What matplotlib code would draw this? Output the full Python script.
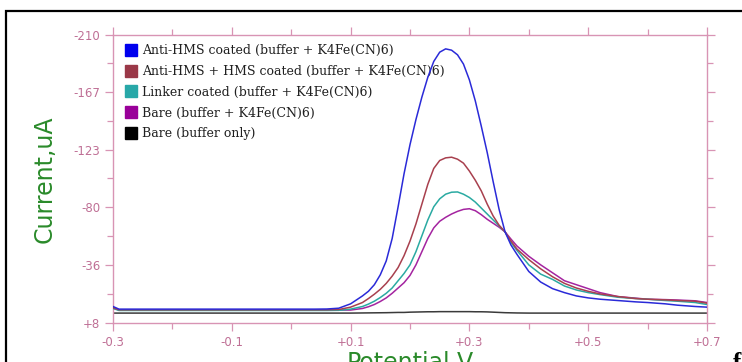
import matplotlib
matplotlib.use("Agg")
import matplotlib.pyplot as plt
from matplotlib.lines import Line2D
from matplotlib.patches import Rectangle

# ---------------- data ----------------
potential = [-0.30, -0.29, -0.20, -0.10, 0.00, 0.04, 0.06, 0.08, 0.10, 0.12, 0.13,
             0.14, 0.15, 0.16, 0.17, 0.18, 0.19, 0.20, 0.21, 0.22, 0.23, 0.24, 0.25,
             0.26, 0.27, 0.28, 0.29, 0.30, 0.31, 0.32, 0.33, 0.34, 0.35, 0.36, 0.37,
             0.38, 0.40, 0.42, 0.44, 0.46, 0.48, 0.50, 0.52, 0.55, 0.58, 0.60, 0.63,
             0.65, 0.68, 0.70]

anti_hms = [-4.5, -2.5, -2.5, -2.5, -2.5, -2.5, -2.6, -3.2, -6.5, -12.5, -16,
            -21, -28.5, -39, -56, -80, -105, -127, -146, -163, -178, -190, -197,
            -199.5, -198.5, -195, -188, -176, -160, -141, -121, -99, -78, -61, -51,
            -44, -31, -23, -18, -15, -12.5, -11, -10, -9, -8, -7.5, -6.5,
            -5.5, -4.5, -4]

anti_hms_hms = [-3.5, -2, -2, -2, -2, -2, -2, -2.2, -4, -7.5, -10.5,
                -13.8, -17.5, -22, -27.5, -34, -43, -54, -67, -82, -97, -109, -115,
                -117, -117.5, -116, -113, -107, -100, -92, -82, -73, -66, -61, -54,
                -48, -40, -33, -27, -22, -18.5, -16, -14, -12, -10.5, -10, -9.5,
                -9, -8.5, -7]

linker = [-3, -1.5, -1.5, -1.5, -1.5, -1.5, -1.5, -1.6, -2.5, -4.5, -6.3,
          -8.5, -11.3, -14.5, -18.5, -24, -29.5, -36, -46, -58, -70, -80, -86,
          -89.5, -91, -91.2, -89.5, -87, -83.5, -79, -74.5, -70, -65.5, -61, -53,
          -47, -36, -29, -25, -20, -17, -15, -13.5, -11.5, -10.5, -10, -9,
          -8.5, -7.5, -6]

bare_k4 = [-3.5, -1.8, -1.8, -1.8, -1.8, -1.8, -1.8, -1.8, -1.8, -3, -4.3,
           -6, -8.3, -11, -14.5, -18.5, -22.5, -28, -36, -46, -56, -64, -69,
           -72, -74.5, -76.5, -78, -78.5, -77, -74, -70.5, -67.5, -64.5, -61, -55.5,
           -50.3, -42.5, -36, -30, -24, -21, -18, -15, -12, -10.8, -10, -9.7,
           -9.4, -8.8, -7.5]

bare_buffer = [0.5, 0.5, 0.5, 0.5, 0.5, 0.5, 0.5, 0.5, 0.5, 0.4, 0.35,
               0.3, 0.25, 0.2, 0.1, 0.0, 0.0, -0.2, -0.3, -0.4, -0.5, -0.5, -0.6,
               -0.6, -0.6, -0.6, -0.6, -0.6, -0.5, -0.5, -0.4, -0.2, 0.0, 0.2, 0.3,
               0.4, 0.5, 0.5, 0.5, 0.5, 0.5, 0.5, 0.5, 0.5, 0.5, 0.5, 0.5,
               0.5, 0.5, 0.5]

labels = ["Anti-HMS coated (buffer + K4Fe(CN)6)",
          "Anti-HMS + HMS coated (buffer + K4Fe(CN)6)",
          "Linker coated (buffer + K4Fe(CN)6)",
          "Bare (buffer + K4Fe(CN)6)",
          "Bare (buffer only)"]

x_ticks = [-0.3, -0.1, 0.1, 0.3, 0.5, 0.7]
x_tick_labels = ["-0.3", "-0.1", "+0.1", "+0.3", "+0.5", "+0.7"]
x_minor = [-0.2, 0.0, 0.2, 0.4, 0.6]
y_ticks = [-210, -167, -123, -80, -36, 8]
y_tick_labels = ["-210", "-167", "-123", "-80", "-36", "+8"]

# ---------------- style ----------------
line_colors = ["#2a2ad8", "#a8404e", "#2aaaa2", "#a424a0", "#3a3a3a"]
patch_colors = ["#0000ee", "#9a3848", "#28a8a8", "#990099", "#000000"]
pink = "#d894b4"
tick_text = "#bf6f95"
green = "#2a8a2a"

fig = plt.figure(figsize=(7.42, 3.62), dpi=100)
ax = fig.add_axes([113 / 742, 39 / 362, 594 / 742, 288 / 362])

series = [anti_hms, anti_hms_hms, linker, bare_k4, bare_buffer]
z = [6, 5, 4, 3, 2]
for vals, c, zz in zip(series, line_colors, z):
    ax.plot(potential, vals, color=c, lw=1.1, zorder=zz)

ax.set_xlim(-0.3, 0.7)
ax.set_ylim(8, -210)

ax.set_xticks(x_ticks)
ax.set_xticklabels(x_tick_labels)
ax.set_xticks(x_minor, minor=True)
ax.set_yticks(y_ticks)
ax.set_yticklabels(y_tick_labels)
y_minor = [(a + b) / 2 for a, b in zip(y_ticks[:-1], y_ticks[1:])]
ax.set_yticks(y_minor, minor=True)

ax.tick_params(which="both", direction="out", top=True, right=True,
               labeltop=False, labelright=False, color=pink, width=0.9)
ax.tick_params(which="major", length=6, labelsize=8.5, labelcolor=tick_text, pad=3)
ax.tick_params(which="minor", length=4.5)
for lab in ax.get_xticklabels() + ax.get_yticklabels():
    lab.set_family("DejaVu Sans")

for sp in ax.spines.values():
    sp.set_color(pink)
    sp.set_linewidth(1.0)

ax.set_ylabel("Current,uA", color=green, fontsize=17, family="DejaVu Sans", labelpad=12)
ax.set_xlabel("Potential,V", color=green, fontsize=17, family="DejaVu Sans", labelpad=1.5)

handles = [Line2D([], [], marker="s", linestyle="none", markersize=8,
                  markerfacecolor=c, markeredgecolor=c) for c in patch_colors]
leg = ax.legend(handles, labels, loc="upper left", bbox_to_anchor=(0.022, 0.968),
                frameon=False, handlelength=0.8, handletextpad=0.45,
                labelspacing=0.62, borderpad=0.0, borderaxespad=0.0,
                prop={"family": "DejaVu Serif", "size": 9})
for t in leg.get_texts():
    t.set_color("#202020")

# outer black frame
fig.add_artist(Rectangle((6 / 742, -0.5), 2.0, 0.5 + (1 - 11 / 362),
                         transform=fig.transFigure, fill=False,
                         edgecolor="black", lw=1.6))
fig.text(733 / 742, -0.035, "f", fontsize=18, fontweight="bold",
         family="Liberation Serif", color="black", ha="left", va="bottom")

fig.savefig("out.png", dpi=100)
